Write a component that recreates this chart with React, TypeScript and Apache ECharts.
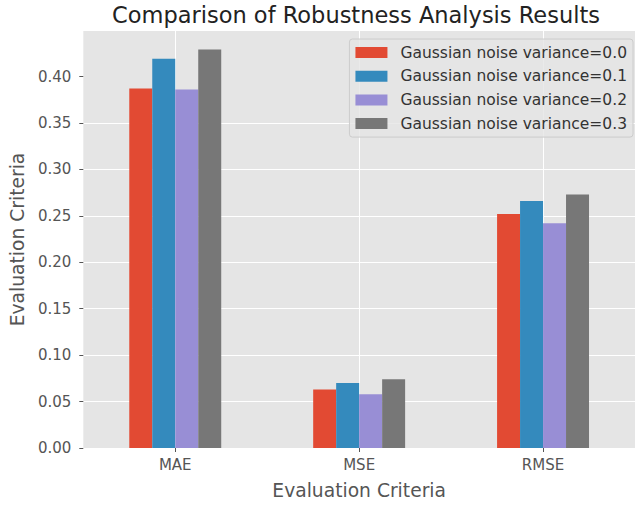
import React, { useEffect, useRef } from "react";
import * as echarts from "echarts";

const categories = ["MAE", "MSE", "RMSE"];
const seriesNames = [
  "Gaussian noise variance=0.0",
  "Gaussian noise variance=0.1",
  "Gaussian noise variance=0.2",
  "Gaussian noise variance=0.3",
];
const variance00 = [0.387, 0.063, 0.252];
const variance01 = [0.419, 0.070, 0.266];
const variance02 = [0.386, 0.058, 0.242];
const variance03 = [0.429, 0.074, 0.273];
const yTicks = [0, 0.05, 0.1, 0.15, 0.2, 0.25, 0.3, 0.35, 0.4];
const colors = ["#E24A33", "#348ABD", "#988ED5", "#777777"];

const FONT = "DejaVu Sans";

export default function App() {
  const ref = useRef<HTMLDivElement>(null);
  useEffect(() => {
    if (!ref.current) return;
    const chart = echarts.init(ref.current, null, { renderer: "svg" });
    const values = [variance00, variance01, variance02, variance03];
    chart.setOption({
      animation: false,
      textStyle: { fontFamily: FONT },
      title: {
        text: "Comparison of Robustness Analysis Results",
        left: 112,
        top: 3,
        padding: 0,
        textStyle: { fontFamily: FONT, fontSize: 22.5, fontWeight: "normal", color: "#222222" },
      },
      legend: {
        orient: "vertical",
        right: 3,
        top: 39,
        align: "left",
        icon: "rect",
        itemWidth: 32,
        itemHeight: 11,
        itemGap: 7.7,
        padding: [5.5, 6, 5.5, 6],
        backgroundColor: "rgba(229,229,229,0.8)",
        borderColor: "#cccccc",
        borderWidth: 1,
        borderRadius: 3,
        textStyle: { fontFamily: FONT, fontSize: 15.5, color: "#333333", lineHeight: 16, padding: [0, 0, 0, 8] },
        data: seriesNames,
      },
      grid: {
        left: 81,
        right: 1,
        top: 31,
        bottom: 56,
        show: true,
        backgroundColor: "#E5E5E5",
        borderWidth: 0,
      },
      xAxis: {
        type: "category",
        data: categories,
        name: "Evaluation Criteria",
        nameLocation: "middle",
        nameGap: 33,
        nameTextStyle: { fontFamily: FONT, fontSize: 18.7, color: "#555555" },
        axisLine: { show: false },
        axisTick: { show: true, alignWithLabel: true, length: 4, lineStyle: { color: "#555555" } },
        axisLabel: { fontFamily: FONT, fontSize: 15, color: "#555555", margin: 9 },
        splitLine: { show: true, alignWithLabel: true, lineStyle: { color: "#ffffff", width: 1 } },
      },
      yAxis: {
        type: "value",
        min: 0,
        max: 0.449,
        interval: 0.05,
        name: "Evaluation Criteria",
        nameLocation: "middle",
        nameGap: 54,
        nameTextStyle: { fontFamily: FONT, fontSize: 18.7, color: "#555555" },
        axisLine: { show: false },
        axisTick: { show: true, length: 4, lineStyle: { color: "#555555" }, customValues: yTicks },
        axisLabel: {
          fontFamily: FONT,
          fontSize: 15,
          color: "#555555",
          margin: 12,
          customValues: yTicks,
          formatter: (v: number) => v.toFixed(2),
        },
        splitLine: { show: true, showMaxLine: false, lineStyle: { color: "#ffffff", width: 1 } },
      },
      series: seriesNames.map((name, i) => ({
        name,
        type: "bar",
        data: values[i],
        barWidth: "12.5%",
        barGap: "0%",
        itemStyle: { color: colors[i] },
        z: 3,
      })),
    });
    return () => chart.dispose();
  }, []);
  return (
    <div
      ref={ref}
      style={{ position: "fixed", left: 0, top: 0, width: 636, height: 505, background: "#ffffff" }}
    />
  );
}
